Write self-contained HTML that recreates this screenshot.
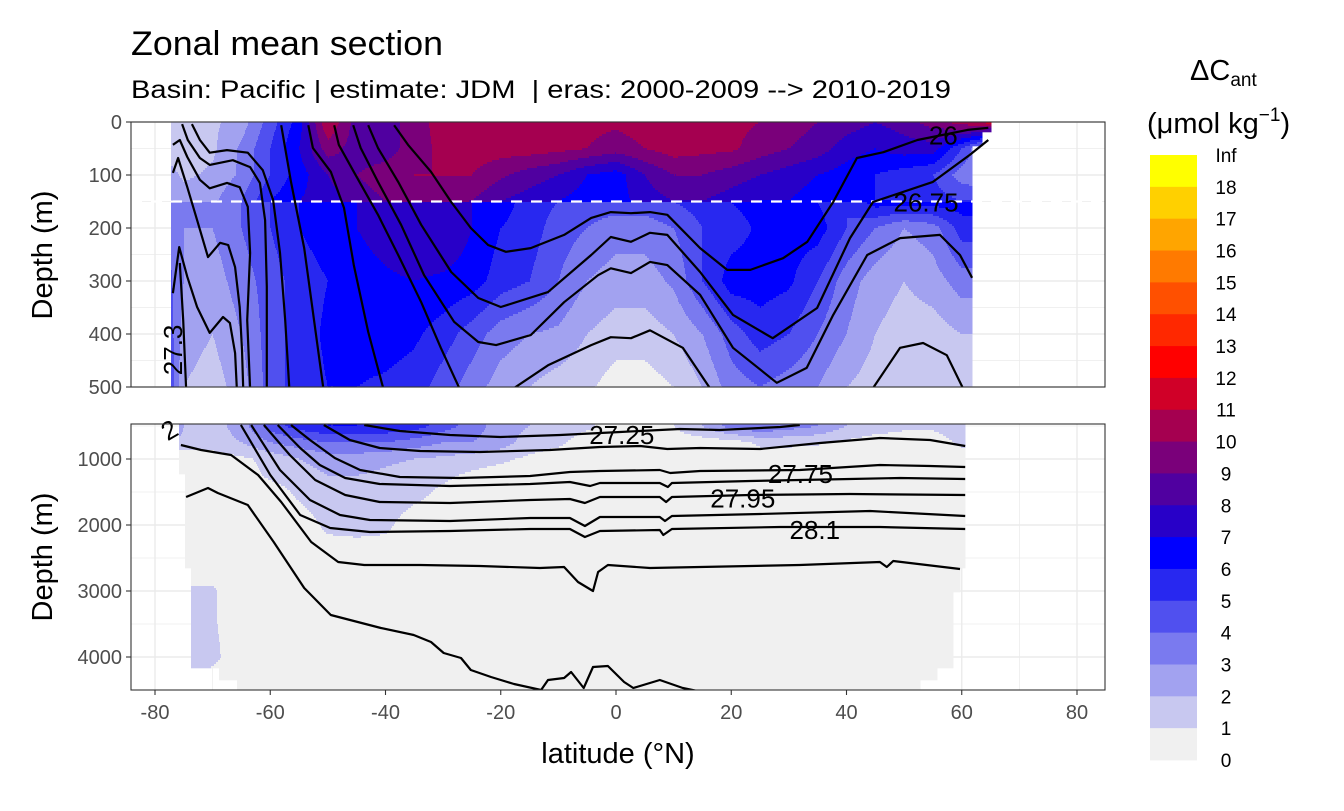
<!DOCTYPE html>
<html><head><meta charset="utf-8"><style>
html,body{margin:0;padding:0;background:#fff;}
svg text{font-family:"Liberation Sans",Arial,sans-serif;}
</style></head><body>
<svg id="chart" width="1344" height="806" viewBox="0 0 1344 806" xmlns="http://www.w3.org/2000/svg">
<defs>
<clipPath id="clipTop"><rect x="131" y="122" width="974" height="265"/></clipPath>
<clipPath id="clipBot"><rect x="131" y="424" width="974" height="266"/></clipPath>
</defs>
<rect x="0" y="0" width="1344" height="806" fill="#fff"/>
<text x="131" y="55" font-size="34" textLength="312" lengthAdjust="spacingAndGlyphs" fill="#000">Zonal mean section</text>
<text x="131" y="98" font-size="25" textLength="820" lengthAdjust="spacingAndGlyphs" fill="#000" xml:space="preserve">Basin: Pacific | estimate: JDM  | eras: 2000-2009 --&gt; 2010-2019</text>
<g id="gTop"></g>
<g id="gBot"></g>
<g id="gAxes"></g>
<g id="gLegend"></g>
</svg>
<script>
// ---------- data ----------
const lats = [-78,-75,-70,-65,-60,-55,-50,-45,-40,-35,-30,-25,-20,-15,-10,-5,0,5,10,15,20,25,30,35,40,45,50,55,60,65];
const depthsTop = [0,50,100,149,151,200,300,400,500];
const valsTop0   = [1.2,1.2,1.8,2.5,4.5,6.5,11,8.5,8.5,9.5,10.5,10.5,10.5,10.5,10.5,10.3,10.2,10.5,10.5,10.5,10.3,10,9.5,9,8.5,8,8.5,9.5,10.5,11.5];
const valsTop50  = [1.5,1.3,1.8,3.2,5,7,9.5,8.5,8.5,9.5,10.3,10.5,10.5,10.5,10.3,10,9.5,10,10.5,10.3,10.2,9.5,9,8.5,7.5,7,7.5,7.5,5,2];
const valsTop100 = [2.5,1.8,2.2,3.2,5,6.5,8,9,9.5,10,10,10,9.2,8.5,8,7,6.5,8,9,9,8.5,8,7.5,7,6.5,6,5.5,5,3.5,3];
const valsTop149 = [3.2,2.6,2.8,4,6,7,7.5,8.5,9,9.5,9.5,9,8,7.5,7,6.5,6.5,7.5,8,8,7.5,7,7,6.5,6.5,6,6,5.5,5,5];
const valsTop151 = [4,3,3,4,5,6,6.5,7,7.5,8,7.5,7,6.5,5.5,5,4.5,4.5,4.5,5,5.5,6,6.5,6.5,6,5,6.5,6.5,6.5,6.5,6.5];
const valsTop200 = [4,3,3,4,5,6,6.5,7,7.5,8,8,7,6,5.5,4.5,4,3.5,3.5,4,5,5.5,6.2,6.5,6.5,5,4,3,3.5,5.5,5.5];
const valsTop300 = [4.5,3,2.5,3.5,4.5,5.5,6,6.5,6.8,7,6.8,6.5,5.5,5,4,3,2.5,2.5,3.2,5,6.5,6.5,6.2,5,3.5,2.5,2,2.5,3.5,3.5];
const valsTop400 = [5,2.5,2,3,4.5,5.5,6.2,6.5,6.5,6.2,5.5,4.5,3.5,3,2.8,2,1.5,1.5,2,3,4.5,5.5,5,4,3,2,1.5,1.5,2,2];
const valsTop500 = [5.5,2,1.5,2.5,4.5,5.5,6,6,5.8,5.5,4.5,3.5,2.5,2,1.5,1.2,0.5,0.5,1,2,3.5,4,3.5,3,2,1.5,1.2,1.2,1.5,1.5];
const depthsBot = [500,750,1000,1250,1500,2000,2500,3000,3500,4000,4500];
const valsBot750  = [1.5,1.5,1.5,2,3,3.5,4,4,4,3.5,3,3,2.5,1.5,1.2,0.5,0.5,0.5,0.5,0.5,0.5,1.2,1.2,1.1,0.8,0.5,0.5,0.5,1.2,1.2];
const valsBot1000 = [0.5,0.5,0.5,0.8,1.3,2,2.5,2.5,2.2,2,1.8,1.5,1.2,0.8,0.5,0.5,0.5,0.5,0.5,0.5,0.5,0.5,0.5,0.5,0.5,0.5,0.5,0.5,0.5,0.5];
const valsBot1250 = [0.5,0.5,0.5,0.5,1.2,1.5,2,2,1.8,1.5,1.2,0.8,0.5,0.5,0.5,0.5,0.5,0.5,0.5,0.5,0.5,0.5,0.5,0.5,0.5,0.5,0.5,0.5,0.5,0.5];
const valsBot1500 = [0.5,0.5,0.5,0.5,0.5,1.2,1.6,1.6,1.6,1.3,0.8,0.5,0.5,0.5,0.5,0.5,0.5,0.5,0.5,0.5,0.5,0.5,0.5,0.5,0.5,0.5,0.5,0.5,0.5,0.5];
const valsBot2000 = [0.5,0.5,0.5,0.5,0.5,0.5,1.2,1.3,1.2,0.5,0.5,0.5,0.5,0.5,0.5,0.5,0.5,0.5,0.5,0.5,0.5,0.5,0.5,0.5,0.5,0.5,0.5,0.5,0.5,0.5];
const valsBot2500 = [0.5,0.5,0.5,0.5,0.5,0.5,0.5,0.5,0.5,0.5,0.5,0.5,0.5,0.5,0.5,0.5,0.5,0.5,0.5,0.5,0.5,0.5,0.5,0.5,0.5,0.5,0.5,0.5,0.5,0.5];
const valsBot3000 = [0.5,1.1,1.1,0.5,0.5,0.5,0.5,0.5,0.5,0.5,0.5,0.5,0.5,0.5,0.5,0.5,0.5,0.5,0.5,0.5,0.5,0.5,0.5,0.5,0.5,0.5,0.5,0.5,0.5,0.5];
const valsBot3500 = [0.5,1.3,1.1,0.5,0.5,0.5,0.5,0.5,0.5,0.5,0.5,0.5,0.5,0.5,0.5,0.5,0.5,0.5,0.5,0.5,0.5,0.5,0.5,0.5,0.5,0.5,0.5,0.5,0.5,0.5];
const valsBot4000 = [0.5,1.5,1.2,0.5,0.5,0.5,0.5,0.5,0.5,0.5,0.5,0.5,0.5,0.5,0.5,0.5,0.5,0.5,0.5,0.5,0.5,0.5,0.5,0.5,0.5,0.5,0.5,0.5,0.5,0.5];
const valsBot4500 = [0.5,0.5,0.5,0.5,0.5,0.5,0.5,0.5,0.5,0.5,0.5,0.5,0.5,0.5,0.5,0.5,0.5,0.5,0.5,0.5,0.5,0.5,0.5,0.5,0.5,0.5,0.5,0.5,0.5,0.5];
// data extent (depth break -> west/east latitude)
const maskTopDepth = [0,20,45,500];
const maskTopWest  = [-77.3,-77.3,-77.3];
const maskTopEast  = [65,63.5,61.8];
const maskBotDepth = [500,1242,2652,3015,4152,4348,4500];
const maskBotWest  = [-75.8,-74.8,-73.8,-73.8,-68.9,-65.8];
const maskBotEast  = [60.6,60.6,59.7,58.5,55.7,52.8];
// colour classes
const legendLabels = ["Inf","18","17","16","15","14","13","12","11","10","9","8","7","6","5","4","3","2","1","0"];
const classColors = ["#F0F0F0","#C8C8F0","#A2A2F0","#7A7AEF","#5050EF","#2828F0","#0000FF","#2800C8","#5000A0","#7A007A","#A50050","#D00028","#FF0000","#FF2800","#FF5000","#FF7A00","#FFA500","#FFD000","#FFFF00"];
// contour lines (lat, depth)
const cTopLat = [
 [-38.5,-36.1,-32.1,-28.6,-25.2,-22.2,-19.1,-14.8,-9.0,-4.3,-0.9,2.6,5.9,8.9,14.6,19.3,23.3,29.0,33.2,37.7,41.8,46.4,52.3,61.0,64.6],
 [-43.0,-41.3,-37.8,-33.8,-28.6,-23.9,-20.0,-11.8,-4.3,-0.9,2.6,5.9,8.9,14.6,20.3,27.2,34.9,40.6,44.6,55.0,61.4,64.6],
 [-45.6,-44.3,-41.3,-37.3,-33.3,-28.1,-23.9,-20.8,-14.8,-9.0,-3.1,-0.9,2.6,5.9,8.9,14.6,20.3,27.9,33.1,37.7,43.6,49.3,56.2,59.7,61.8],
 [-48.9,-48.1,-45.5,-41.3,-37.8,-33.8,-30.4,-27.2],
 [-53.4,-52.6,-49.5,-47.2,-45.5,-43.0,-40.4],
 [-58.1,-56.4,-54.1,-50.8],
 [-17.7,-11.8,-4.3,-0.9,2.6,5.9,11.6,16.3],
 [44.6,49.3,53.3,57.4,60.2],
 [-73.6,-72.2,-70.5,-67.5,-63.9,-61.3,-59.5,-58.3,-57.4,-56.7],
 [-75.3,-74.3,-72.2,-70.5,-66.5,-63.5,-61.8,-60.9,-60.6,-60.6],
 [-76.9,-75.7,-74.4,-72.2,-70.5,-67.5,-65.3,-63.9,-63.5,-64.0,-63.5],
 [-76.9,-76.0,-74.4,-72.7,-70.8,-68.7,-67.3,-66.1,-65.3,-64.9,-64.7],
 [-76.9,-75.8,-74.4,-72.7,-70.5,-68.2,-67.0,-66.1,-65.8],
 [-75.7,-75.1,-74.6]
];
const cTopDep = [
 [6,43,94,151,200,232,245,238,213,181,170,172,170,175,238,279,279,257,226,151,68,57,34,15,11],
 [6,49,113,194,283,332,349,321,251,217,226,209,213,283,364,408,351,219,151,113,62,34],
 [6,49,113,194,289,377,415,421,402,340,289,276,285,264,270,326,426,492,464,364,251,219,213,251,294],
 [6,43,94,175,251,340,426,502],
 [6,49,94,162,270,396,502],
 [6,113,238,502],
 [502,459,421,406,408,393,426,502],
 [502,426,417,440,502],
 [4,34,58,53,58,91,147,247,374,502],
 [4,34,68,81,72,85,115,185,311,502],
 [43,34,66,109,125,115,123,160,247,374,502],
 [96,68,123,185,255,228,232,274,349,430,502],
 [323,236,292,349,398,368,379,436,502],
 [266,374,502]
];
const cBotLat = [
 [-43.7,-37.5,-28.8,-20.1,-9.7,0.7,11.1,18.0,28.5,31.9],
 [-50.7,-46.2,-41.0,-34.0,-23.6,-11.5,-2.8,4.2,8.9,14.6,25.0,35.4,45.8,54.5,60.6],
 [-56.4,-53.1,-48.8,-44.4,-37.5,-27.1,-14.9,-8.0,-2.8,7.6,9.4,14.6,31.9,45.8,54.5,60.6],
 [-58.7,-54.8,-51.4,-47.0,-41.0,-28.8,-14.9,-8.0,-4.5,-2.8,7.6,9.0,9.7,23.3,40.6,49.3,60.6],
 [-61.1,-56.6,-52.2,-47.0,-41.0,-28.8,-14.9,-8.0,-5.4,-2.8,7.6,8.7,9.7,23.3,40.6,60.6],
 [-63.3,-58.3,-53.1,-47.9,-42.7,-28.8,-14.9,-8.0,-5.4,-2.8,7.6,8.5,9.7,25.0,44.1,60.6],
 [-65.1,-60.0,-54.8,-49.6,-42.7,-28.8,-14.9,-8.0,-5.4,-2.8,7.6,8.2,9.7,28.5,45.8,60.6],
 [-75.5,-72.0,-66.8,-62.1,-58.1,-52.9,-48.2,-43.7,-34.0,-23.6,-13.2,-9.0,-6.6,-4.0,-3.1,-1.4,5.9,14.6,31.9,45.8,47.0,48.1,59.7],
 [-74.6,-70.8,-69.1,-63.9,-59.4,-54.1,-49.5,-40.8,-35.1,-32.1,-29.9,-26.9,-25.2,-21.7,-17.7,-13.0,-11.8,-9.0,-7.8,-5.6,-4.0,-1.4,1.4,3.0,7.6,11.6,14.1]
];
const cBotDep = [
 [485,576,636,667,636,591,545,561,515,485],
 [485,712,833,879,894,864,818,803,848,833,848,758,682,712,803],
 [485,712,985,1167,1273,1288,1258,1197,1182,1167,1212,1182,1167,1091,1106,1121],
 [485,833,1091,1288,1379,1409,1379,1348,1409,1364,1364,1424,1364,1333,1303,1288,1303],
 [485,939,1318,1545,1651,1667,1621,1606,1667,1576,1576,1651,1576,1545,1530,1545],
 [485,1167,1621,1848,1924,1939,1894,1894,2015,1879,1879,1939,1864,1833,1788,1864],
 [485,1242,1848,2045,2106,2091,2061,2061,2182,2091,2076,2151,2061,2030,2030,2061],
 [788,864,939,1242,1651,2258,2561,2606,2606,2621,2652,2636,2864,3000,2712,2606,2652,2636,2606,2561,2636,2545,2667],
 [1576,1439,1515,1697,2258,2955,3364,3561,3667,3773,3939,4015,4197,4303,4409,4500,4348,4318,4227,4470,4152,4136,4379,4470,4348,4470,4515]
];
const labTxt  = ["26","26.75","27.3","27.25","27.75","27.95","28.1","2"];
const labLat  = [56.8,53.8,-76.9,1.0,32.0,22.0,34.5,-77.5];
const labDep  = [25,152,430,635,1230,1595,2075,560];
const labPanel= ["t","t","t","b","b","b","b","b"];
const labRot  = [0,0,-90,0,0,0,0,-30];
const xTicks = [-80,-60,-40,-20,0,20,40,60,80];
const yTicksTop = [0,100,200,300,400,500];
const yTicksBot = [1000,2000,3000,4000];

// ---------- scales ----------
const X = lat => 616 + lat*5.7625;
const Xinv = px => (px-616)/5.7625;
const YT = d => 122 + d*0.53;
const YTinv = py => (py-122)/0.53;
const YB = d => 426 + (d-500)*0.066;
const YBinv = py => 500 + (py-426)/0.066;
const NS = "http://www.w3.org/2000/svg";
function mk(tag, attrs, parent){const e=document.createElementNS(NS,tag);for(const k in attrs)e.setAttribute(k,attrs[k]);parent.appendChild(e);return e;}

const rowsTop=[valsTop0,valsTop50,valsTop100,valsTop149,valsTop151,valsTop200,valsTop300,valsTop400,valsTop500];
const rowsBot=[valsTop500,valsBot750,valsBot1000,valsBot1250,valsBot1500,valsBot2000,valsBot2500,valsBot3000,valsBot3500,valsBot4000,valsBot4500];
function idx(arr,v){for(let i=0;i<arr.length-2;i++){if(v<arr[i+1])return i;}return arr.length-2;}
function interp(depths,rows,lat,d){
  const i=idx(lats,lat), j=idx(depths,d);
  let tx=(lat-lats[i])/(lats[i+1]-lats[i]); tx=Math.max(0,Math.min(1,tx));
  let ty=(d-depths[j])/(depths[j+1]-depths[j]); ty=Math.max(0,Math.min(1,ty));
  const a=rows[j][i],b=rows[j][i+1],c=rows[j+1][i],e=rows[j+1][i+1];
  return (a*(1-tx)+b*tx)*(1-ty)+(c*(1-tx)+e*tx)*ty;
}
function maskRange(md,mw,me,d){for(let k=0;k<mw.length;k++){if(d<md[k+1]||k===mw.length-1)return [mw[k],me[k]];}}
function cls(v){let c=Math.floor(v);if(c<0)c=0;if(c>18)c=18;return c;}

function drawField(g,y0,y1,yinv,depths,rows,md,mw,me,name){
  const step=2;
  for(let py=y0;py<y1;py+=step){
    const d=yinv(py+step/2);
    const [w,e]=maskRange(md,mw,me,d);
    let runStart=null,runCls=-1;
    const xs=Math.max(131,Math.round(X(w))), xe=Math.min(1105,Math.round(X(e)));
    for(let px=xs;px<=xe;px++){
      const c = px<xe ? cls(interp(depths,rows,Xinv(px+0.5),d)) : -2;
      if(c!==runCls){
        if(runCls>=0){
          const r=mk('rect',{x:runStart,y:py,width:px-runStart+0.5,height:step+0.3,fill:classColors[runCls]},g);
          
          
        }
        runStart=px;runCls=c;
      }
    }
  }
}

const gTop=document.getElementById('gTop'), gBot=document.getElementById('gBot'), gAx=document.getElementById('gAxes'), gLeg=document.getElementById('gLegend');

function panelBg(g,y,h){
  const bg=mk('rect',{x:131,y:y,width:974,height:h,fill:'#fff'},g);
  
  
}
function grid(g,y,h,ymaj,ymin){
  for(let lat=-80;lat<=80;lat+=10){
    const major=lat%20===0;
    const l=mk('line',{x1:X(lat),x2:X(lat),y1:y,y2:y+h,stroke:'#ebebeb','stroke-width':major?1.4:0.7},g);
    
    
  }
  ymaj.forEach(v=>{const l=mk('line',{x1:131,x2:1105,y1:v,y2:v,stroke:'#ebebeb','stroke-width':1.4},g);
    
    });
  ymin.forEach(v=>{const l=mk('line',{x1:131,x2:1105,y1:v,y2:v,stroke:'#ebebeb','stroke-width':0.7},g);
    
    });
}
panelBg(gTop,122,265);
grid(gTop,122,265,yTicksTop.map(YT),[50,150,250,350,450].map(YT));
panelBg(gBot,424,266);
grid(gBot,424,266,yTicksBot.map(YB),[500,1500,2500,3500,4500].map(YB));

const fTop=mk('g',{'clip-path':'url(#clipTop)'},gTop);


drawField(fTop,122,387,YTinv,depthsTop,rowsTop,maskTopDepth,maskTopWest,maskTopEast,'field-cell');
const fBot=mk('g',{'clip-path':'url(#clipBot)'},gBot);


drawField(fBot,424,690,YBinv,depthsBot,rowsBot,maskBotDepth,maskBotWest,maskBotEast,'field-cell');

// dashed line at 150 m
const dl=mk('line',{x1:131,x2:1105,y1:YT(150),y2:YT(150),stroke:'#fff','stroke-width':2.2,'stroke-dasharray':'11 9'},gTop);



function drawLines(g,latsArr,depArr,yf,clip){
  const cg=mk('g',{'clip-path':clip},g);
  
  
  for(let k=0;k<latsArr.length;k++){
    const pts=latsArr[k].map((la,i)=>X(la).toFixed(1)+','+yf(depArr[k][i]).toFixed(1)).join(' ');
    const p=mk('polyline',{points:pts,fill:'none',stroke:'#000','stroke-width':2.2,'stroke-linejoin':'round'},cg);
    
    
  }
}
drawLines(gTop,cTopLat,cTopDep,YT,'url(#clipTop)');
drawLines(gBot,cBotLat,cBotDep,YB,'url(#clipBot)');

for(let k=0;k<labTxt.length;k++){
  const px=X(labLat[k]), py=(labPanel[k]==='t'?YT:YB)(labDep[k]);
  const t=mk('text',{x:px,y:py+9,'font-size':26,'text-anchor':'middle',fill:'#000',transform:`rotate(${labRot[k]} ${px} ${py})`},labPanel[k]==='t'?gTop:gBot);
  t.textContent=labTxt[k];
  
  
}

// panel borders
[[122,265],[424,266]].forEach(([y,h])=>{
  const b=mk('rect',{x:131,y:y,width:974,height:h,fill:'none',stroke:'#333','stroke-width':1.1},gAx);
  
  
});
// y ticks
function yAxis(ticks,yf){
  ticks.forEach(v=>{
    const y=yf(v);
    const tk=mk('line',{x1:126,x2:131,y1:y,y2:y,stroke:'#333','stroke-width':1.1},gAx);
    
    
    const t=mk('text',{x:122,y:y+7,'font-size':20,'text-anchor':'end',fill:'#4d4d4d'},gAx);
    t.textContent=String(v);
    
    
  });
}
yAxis(yTicksTop,YT);
yAxis(yTicksBot,YB);
xTicks.forEach(v=>{
  const x=X(v);
  const tk=mk('line',{x1:x,x2:x,y1:690,y2:695,stroke:'#333','stroke-width':1.1},gAx);
  
  
  const t=mk('text',{x:x,y:719,'font-size':20,'text-anchor':'middle',fill:'#4d4d4d'},gAx);
  t.textContent=String(v);
  
  
});
[[255,'y-axis-title-upper'],[557,'y-axis-title-lower']].forEach(([cy,nm])=>{
  const t=mk('text',{x:0,y:0,'font-size':29,'text-anchor':'middle',fill:'#000',transform:`translate(52 ${cy}) rotate(-90)`},gAx);
  t.textContent='Depth (m)';
  
  
});
const xt=mk('text',{x:618,y:763,'font-size':29,'text-anchor':'middle',fill:'#000'},gAx);
xt.textContent='latitude (°N)';



// legend
const lt=mk('text',{x:1190,y:80,'font-size':29,fill:'#000'},gLeg);
lt.innerHTML='ΔC<tspan font-size="19" dy="6">ant</tspan>';


const lt2=mk('text',{x:1147,y:133,'font-size':29,fill:'#000'},gLeg);
lt2.innerHTML='(μmol kg<tspan font-size="19" dy="-12">−1</tspan><tspan dy="12">)</tspan>';


const segH=(760-155)/19;
for(let i=0;i<19;i++){
  const r=mk('rect',{x:1150,y:155+i*segH,width:47,height:segH+0.4,fill:classColors[18-i]},gLeg);
  
  
}
legendLabels.forEach((s,i)=>{
  const t=mk('text',{x:1226,y:155+i*segH+7,'font-size':19,'text-anchor':'middle',fill:'#000'},gLeg);
  t.textContent=s;
  
  
});
</script>
</body></html>
